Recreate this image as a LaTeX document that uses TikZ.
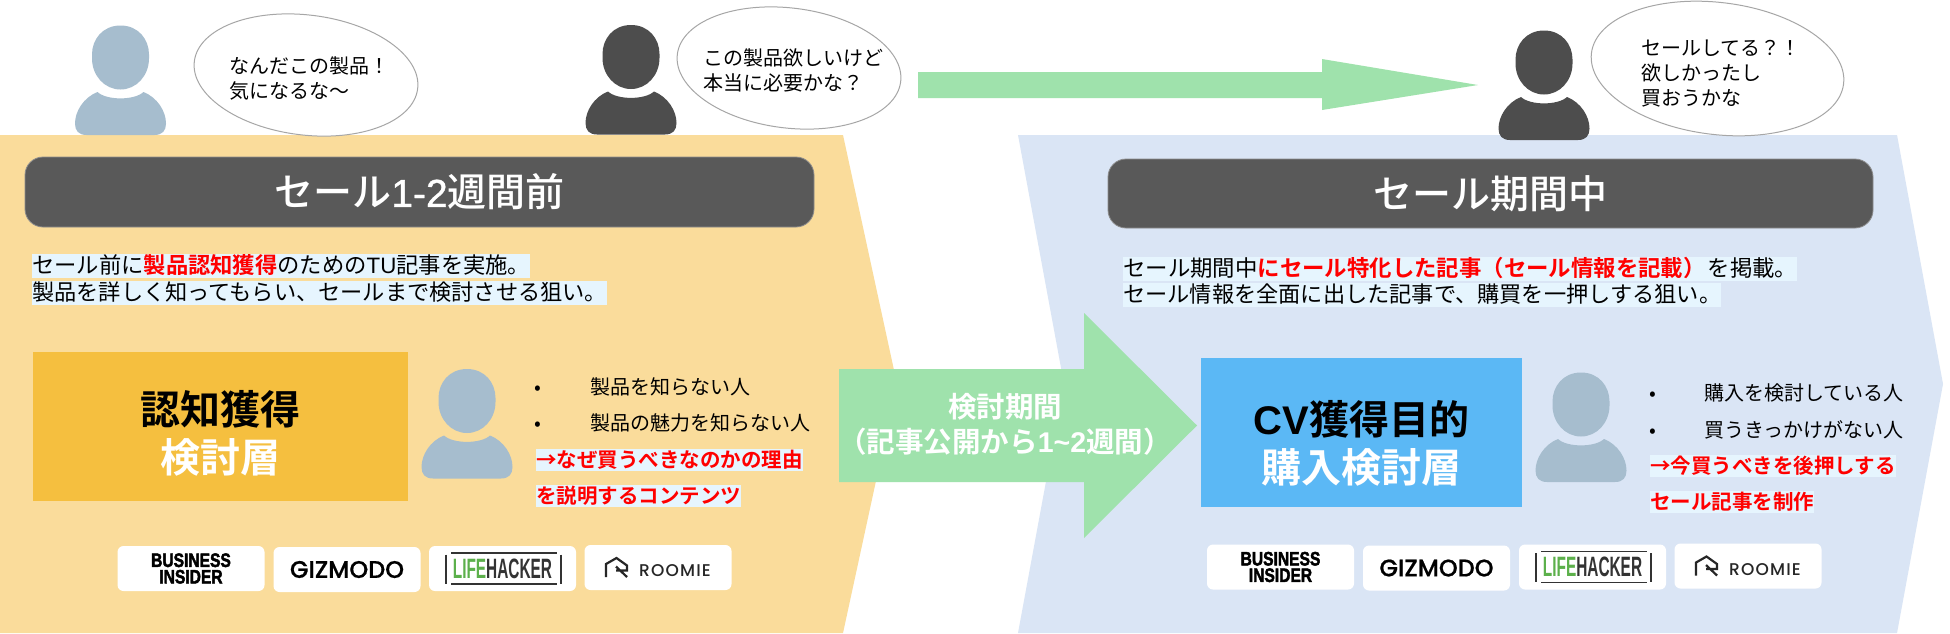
\documentclass[tikz,border=0pt]{standalone}
\usepackage{fontspec}
\usepackage{graphicx}
\usetikzlibrary{shapes.geometric}
\setmainfont{Noto Sans CJK JP}[BoldFont={Noto Sans CJK JP Bold}]
\newfontfamily\medf{Noto Sans CJK JP Medium}
\newfontfamily\latf{Liberation Sans}
\newfontfamily\latm{Liberation Sans}[FakeBold=1]
\newfontfamily\heavyf{Liberation Sans}[FakeBold=2.5]
\newfontfamily\popf{Poppins Medium}[FakeBold=0.6]
\newfontfamily\poproom{Poppins Medium}[LetterSpace=7]
\definecolor{panelA}{HTML}{FADC9B}
\definecolor{panelB}{HTML}{DAE5F5}
\definecolor{greenarrow}{HTML}{9FE2AC}
\definecolor{darkbar}{HTML}{595959}
\definecolor{darkperson}{HTML}{4D4D4D}
\definecolor{blueperson}{HTML}{A6BDCE}
\definecolor{hlcol}{HTML}{E6F5FE}
\definecolor{boxA}{HTML}{F5BF3F}
\definecolor{boxB}{HTML}{5BB8F5}
\definecolor{bubbleline}{HTML}{A6A6A6}
\definecolor{lifegreen}{HTML}{5CB04B}
\definecolor{lifedark}{HTML}{333333}
\newcommand{\fs}[2]{\fontsize{#1}{#2}\selectfont}
\newcommand{\personfig}[3]{%
  \begin{scope}[shift={(#1,#2)}]
    \fill[#3] (0,0) .. controls (18,0) and (28.5,14) .. (28.5,29) -- (28.5,33)
      .. controls (28.5,50) and (16,64) .. (0,64)
      .. controls (-16,64) and (-28.5,50) .. (-28.5,33) -- (-28.5,29)
      .. controls (-28.5,14) and (-18,0) .. (0,0) -- cycle;
    \fill[#3] (-23,66.5) .. controls (-14,75) and (14,75) .. (23,66.5)
      .. controls (37,72) and (45.5,86) .. (45.5,98)
      .. controls (45.5,105) and (42,109.5) .. (34,109.5) -- (-34,109.5)
      .. controls (-42,109.5) and (-45.5,105) .. (-45.5,98)
      .. controls (-45.5,86) and (-37,72) .. (-23,66.5) -- cycle;
  \end{scope}}
\newcommand{\logocards}[9]{%
  \node[card] (#1bi) at (#2,#3) {};
  \node[inner sep=0,align=center,font=\heavyf\bfseries\fs{19.5}{16.5}] (#1bit) at (#2,#3) {\scalebox{0.8}[1]{BUSINESS}\\\scalebox{0.8}[1]{INSIDER}};
  \node[card] (#1gz) at (#4,#5) {};
  \node[inner sep=0,font=\popf\fs{24}{28}] (#1gzt) at (#4,#5) {GIZMODO};
  \node[card] (#1lh) at (#6,#7) {};
  \node[inner sep=0,font=\latf\bfseries\fs{28}{30},text=lifedark] (#1lht) at (#6,#7) {\scalebox{0.55}[1]{\textcolor{lifegreen}{LIFE}HACKER}};
  \draw[lifedark,line width=1.2pt] ([shift={(-56.5,-14)}]#1lh.center) -- ++(0,29);
  \draw[lifedark,line width=1.2pt] ([shift={(58.5,-14)}]#1lh.center) -- ++(0,29);
  \draw[lifedark,line width=1.2pt] ([shift={(-51.5,-15.5)}]#1lh.center) -- ++(106,0);
  \draw[lifedark,line width=1.2pt] ([shift={(-51.5,15.5)}]#1lh.center) -- ++(106,0);
  \node[card] (#1rm) at (#8,#9) {};
  \node[inner sep=0,font=\poproom\fs{17}{20},text=black!85] (#1rmt) at ([shift={(17,3.5)}]#1rm.center) {ROOMIE};
  \draw[black!85,line width=2.2pt,line join=miter] ([shift={(-52,9.5)}]#1rm.center) -- ++(0,-13) -- ++(10.5,-6) -- ++(10.5,7.5) -- ++(0,5) -- ++(-11,0) ++(0,-4) -- ++(11,10.5);
}
\tikzset{
  x=1pt,y=-1pt,
  bubble/.style={ellipse,draw=bubbleline,line width=1pt,fill=white,inner sep=0,rotate=-7},
  bubbletext/.style={inner sep=0,anchor=west,align=left,font=\fs{20}{25}},
  titlebar/.style={rounded corners=18pt,fill=darkbar,draw=black!45,line width=.8pt,text=white,inner sep=0,font=\medf\fs{39}{44}},
  para/.style={anchor=west,inner sep=0,fill=hlcol,font=\fs{22}{26},text height=19.5pt,text depth=4.5pt},
  plain/.style={anchor=west,inner sep=0,font=\fs{20}{24},text height=17.6pt,text depth=2.4pt},
  redline/.style={anchor=west,inner sep=0,fill=hlcol,text=red,font=\bfseries\fs{20.5}{24},text height=18pt,text depth=4pt},
  boxfill/.style={inner sep=0},
  boxnode/.style={inner sep=0,align=center,font=\bfseries\fs{40}{48}},
  card/.style={rounded corners=6pt,fill=white,minimum width=147pt,minimum height=45pt,inner sep=0},
  arrowtext/.style={inner sep=0,align=center,text=white,font=\bfseries\fs{28.5}{34.5}},
}
\begin{document}
\begin{tikzpicture}
\useasboundingbox (0,0) rectangle (1950,633);
\fill[white] (0,0) rectangle (1950,633);
% panels
\fill[panelA] (0,135) -- (843,135) -- (897,384) -- (843,633) -- (0,633) -- cycle;
\fill[panelB] (1018,135) -- (1897,135) -- (1943,384) -- (1897,633) -- (1018,633) -- (1064,384) -- cycle;
% persons
\personfig{120.5}{25.5}{blueperson}
\personfig{631}{25}{darkperson}
\personfig{1544}{30.5}{darkperson}
\personfig{467}{369}{blueperson}
\personfig{1581}{372.5}{blueperson}
% bubbles
\node[bubble,minimum width=225pt,minimum height=120pt] (b1) at (306,75) {};
\node[bubble,minimum width=225pt,minimum height=120pt] (b2) at (789,68) {};
\node[bubble,minimum width=254pt,minimum height=132pt] (b3) at (1717.5,68.5) {};
\node[bubbletext] (b1t) at (229,78.5) {なんだこの製品！\\気になるな～};
\node[bubbletext] (b2t) at (703,70.5) {この製品欲しいけど\\本当に必要かな？};
\node[bubbletext] (b3t) at (1641,73.5) {セールしてる？！\\欲しかったし\\買おうかな};
% arrows
\fill[greenarrow] (918,72) -- (1322,72) -- (1322,59) -- (1478,85) -- (1322,110) -- (1322,98) -- (918,98) -- cycle;
\fill[greenarrow] (839,369) -- (1084,369) -- (1084,313) -- (1197,425.5) -- (1084,538) -- (1084,482) -- (839,482) -- cycle;
\node[arrowtext] (a1) at (1005,424.5) {検討期間\\（記事公開から{\latf\bfseries 1\textasciitilde 2}週間）};
% titles
\node[titlebar,minimum width=789pt,minimum height=70pt] (t1) at (419.5,192) {セール{\latm 1-2}週間前};
\node[titlebar,minimum width=765pt,minimum height=69pt] (t2) at (1490.5,193.5) {セール期間中};
% paragraphs
\node[para,font=\fs{22.3}{26}] (p1) at (32,266) {セール前に\textcolor{red}{\bfseries 製品認知獲得}のための{\latf TU}記事を実施。\hspace{5pt}};
\node[para,font=\fs{22.2}{26}] (p2) at (32,292.5) {製品を詳しく知ってもらい、セールまで検討させる狙い。};
\node[para,font=\fs{22.4}{26}] (p3) at (1123,268.5) {セール期間中\textcolor{red}{\bfseries にセール特化した記事（セール情報を記載）}\hspace{2pt}を掲載。\hspace{11pt}};
\node[para,font=\fs{22.2}{26}] (p4) at (1123,295) {セール情報を全面に出した記事で、購買を一押しする狙い。};
% boxes
\node[boxfill,fill=boxA,minimum width=375pt,minimum height=149pt] (bx1) at (220.5,426.5) {};
\node[boxnode] (bx1t) at (220.5,433) {認知獲得\\\textcolor{white}{検討層}};
\node[boxfill,fill=boxB,minimum width=321pt,minimum height=149pt] (bx2) at (1361.5,432.5) {};
\node[boxnode] (bx2t) at (1361.5,443) {{\latf\bfseries CV}獲得目的\\\textcolor{white}{購入検討層}};
% lists
\node[plain] (l1a) at (534,387) {•};
\node[plain] (l1b) at (590,387) {製品を知らない人};
\node[plain] (l2a) at (534,423) {•};
\node[plain] (l2b) at (590,423) {製品の魅力を知らない人};
\node[redline] (l3) at (536,460) {→なぜ買うべきなのかの理由};
\node[redline] (l4) at (536,496) {を説明するコンテンツ};
\node[plain] (r1a) at (1649,393) {•};
\node[plain] (r1b) at (1704,393) {購入を検討している人};
\node[plain] (r2a) at (1649,430) {•};
\node[plain] (r2b) at (1704,430) {買うきっかけがない人};
\node[redline] (r3) at (1650,466) {→今買うべきを後押しする};
\node[redline] (r4) at (1650,502) {セール記事を制作};
% logos
\logocards{a}{191}{568.5}{347}{569.5}{502.5}{568.5}{658}{567.5}
\logocards{b}{1280.5}{567}{1436.5}{568}{1592.5}{567}{1748}{566}
\end{tikzpicture}
\end{document}
